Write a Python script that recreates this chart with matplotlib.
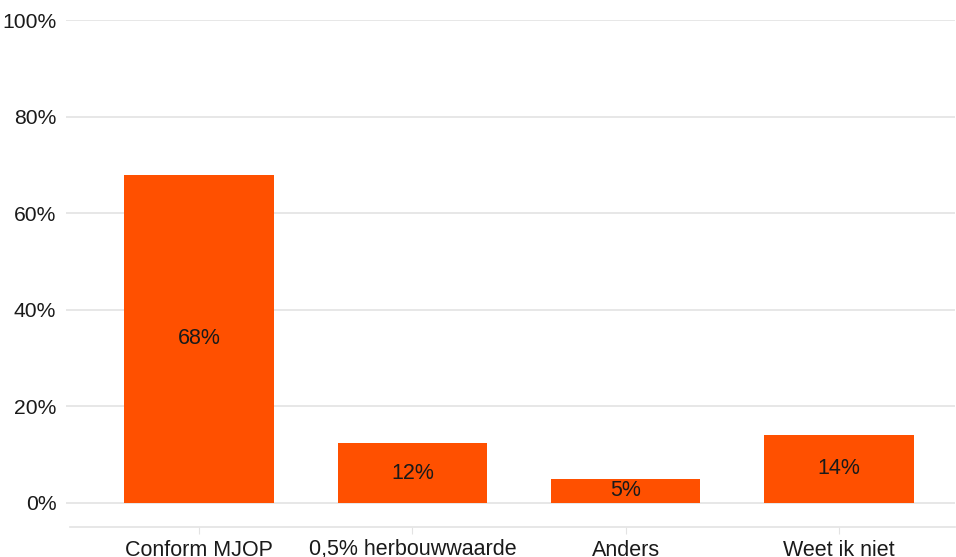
import matplotlib
matplotlib.use("Agg")
import matplotlib.pyplot as plt
from matplotlib.ticker import FuncFormatter

plt.rcParams['font.family'] = ['Liberation Sans', 'DejaVu Sans']

categories = ["Conform MJOP", "0,5% herbouwwaarde", "Anders", "Weet ik niet"]
values = [68.0, 12.4, 5.0, 14.1]
labels = ["68%", "12%", "5%", "14%"]
yticks = [0, 20, 40, 60, 80, 100]

bar_color = "#FF5000"
grid_color = "#E3E3E3"

fig = plt.figure(figsize=(9.56, 5.57), dpi=100)
W, H = 956, 557
ax = fig.add_axes([66 / W, 1 - 527 / H, (955 - 66) / W, (527 - 20) / H])

x = range(len(categories))
bars = ax.bar(x, values, width=0.7, color=bar_color, zorder=2)
for b, lab in zip(bars, labels):
    ax.text(b.get_x() + b.get_width() / 2, b.get_height() / 2, lab,
            ha='center', va='center', fontsize=15.5, color='#1a1a1a', zorder=3)

ax.set_xlim(-0.624, 3.544)
ax.set_ylim(-4.97, 100)
ax.set_yticks(yticks)
ax.yaxis.set_major_formatter(FuncFormatter(lambda v, p: f"{v:.0f}%"))
for t in yticks:
    ax.axhline(t, color=grid_color, lw=1.2, zorder=1)

ax.set_xticks(list(x))
ax.set_xticklabels(categories)

for s in ['top', 'right', 'left']:
    ax.spines[s].set_visible(False)
ax.spines['bottom'].set_color(grid_color)
ax.spines['bottom'].set_linewidth(1.2)
ax.spines['bottom'].set_bounds(-0.605, 3.544)

ax.tick_params(axis='y', length=0, pad=7, labelsize=15.2, labelcolor='#1a1a1a')
ax.tick_params(axis='x', length=5, color=grid_color, pad=4, labelsize=15.5, labelcolor='#1a1a1a')

fig.savefig("out.png", dpi=100)
